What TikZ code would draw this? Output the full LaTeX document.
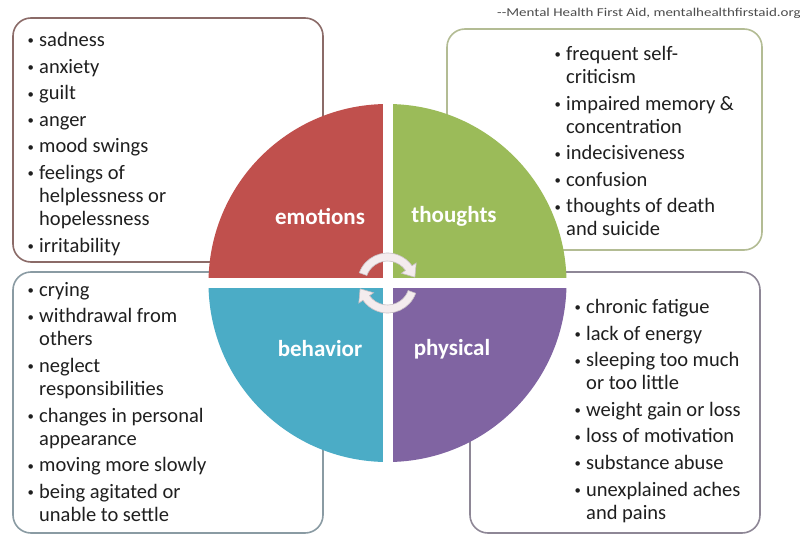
\documentclass[tikz,border=0pt]{standalone}
\usepackage{fontspec}
\setmainfont{Carlito}
\usepackage{graphicx}

\definecolor{emocol}{HTML}{C0504D}
\definecolor{thocol}{HTML}{9BBB59}
\definecolor{behcol}{HTML}{4BACC6}
\definecolor{phycol}{HTML}{8064A2}
\definecolor{emoline}{HTML}{8B6B68}
\definecolor{tholine}{HTML}{B3BC94}
\definecolor{behline}{HTML}{8A9BA3}
\definecolor{phyline}{HTML}{8E8796}
\definecolor{arrowfill}{HTML}{F4ECEE}
\definecolor{arrowline}{HTML}{C8C0C4}

\newcommand{\bl}{\makebox[13pt][l]{\hspace*{1.5pt}\raisebox{1.6pt}{\scalebox{0.62}{\textbullet}}}}
\newcommand{\ind}{\hspace*{13pt}}
\newcommand{\nx}{\\[3.6pt]}

\tikzset{
  symbox/.style={draw=#1, line width=1.6pt, rounded corners=18pt, fill=white},
  symlist/.style={anchor=north west, inner sep=0pt, align=left,
    font=\fontsize{20.5}{23}\selectfont, text=black!88},
  quadlabel/.style={text=white, inner sep=0pt,
    font=\fontsize{23}{26}\selectfont\bfseries}
}

\begin{document}
\begin{tikzpicture}[x=1pt, y=-1pt]
    \def\r{179} % radius of the wheel
    \useasboundingbox (0,0) rectangle (800,535);

    % Boxes behind the wheel
    \draw[symbox=emoline] (13,18) rectangle (323,262);
    \draw[symbox=tholine] (447,29) rectangle (762,250);
    \draw[symbox=behline] (13,272) rectangle (323,533);
    \draw[symbox=phyline] (470,272) rectangle (760,533);

    % Draw wheel
    \begin{scope}[shift={(387.5,283)}, yscale=-1]
        \fill[thocol] (0,0) -- (0:\r) arc[start angle=0, end angle=90, radius=\r] -- cycle;
        \fill[emocol] (0,0) -- (90:\r) arc[start angle=90, end angle=180, radius=\r] -- cycle;
        \fill[behcol] (0,0) -- (180:\r) arc[start angle=180, end angle=270, radius=\r] -- cycle;
        \fill[phycol] (0,0) -- (270:\r) arc[start angle=270, end angle=360, radius=\r] -- cycle;
        \draw[white, line width=10pt] (-\r-3,0) -- (\r+3,0) (0,-\r-3) -- (0,\r+3);

        % Turning arrows
        \foreach \rot in {0,180} {
            \filldraw[rotate=\rot, fill=arrowfill, draw=arrowline, line width=0.6pt]
                (160:30) arc[start angle=160, end angle=35, radius=30]
                -- (35:35) -- (12:28) -- (35:17) -- (35:22)
                arc[start angle=35, end angle=160, radius=22] -- cycle;
        }
    \end{scope}

    % Labels
    \node[quadlabel] (emotions) at (320,216) {emotions};
    \node[quadlabel] (thoughts) at (454,216) {thoughts};
    \node[quadlabel] (behavior) at (320,349) {behavior};
    \node[quadlabel] (physical) at (452,349) {physical};

    % Lists
    \node[symlist] (emolist) at (26,32) {\bl sadness\nx \bl anxiety\nx \bl guilt\nx
        \bl anger\nx \bl mood swings\nx \bl feelings of\\ \ind helplessness or\\
        \ind hopelessness\nx \bl irritability};
    \node[symlist] (tholist) at (553,46) {\bl frequent self-\\ \ind criticism\nx
        \bl impaired memory \&\\ \ind concentration\nx \bl indecisiveness\nx
        \bl confusion\nx \bl thoughts of death\\ \ind and suicide};
    \node[symlist] (behlist) at (26,282) {\bl crying\nx \bl withdrawal from\\ \ind others\nx
        \bl neglect\\ \ind responsibilities\nx \bl changes in personal\\ \ind appearance\nx
        \bl moving more slowly\nx \bl being agitated or\\ \ind unable to settle};
    \node[symlist] (phylist) at (573,299) {\bl chronic fatigue\nx \bl lack of energy\nx
        \bl sleeping too much\\ \ind or too little\nx \bl weight gain or loss\nx
        \bl loss of motivation\nx \bl substance abuse\nx
        \bl unexplained aches\\ \ind and pains};

    % Source
    \node[anchor=base west, inner sep=0pt, font=\fontsize{12}{14}\selectfont, text=black!70]
        (source) at (497,17) {\scalebox{1.25}[1]{-{}-Mental Health First Aid, mentalhealthfirstaid.org}};
\end{tikzpicture}
\end{document}
